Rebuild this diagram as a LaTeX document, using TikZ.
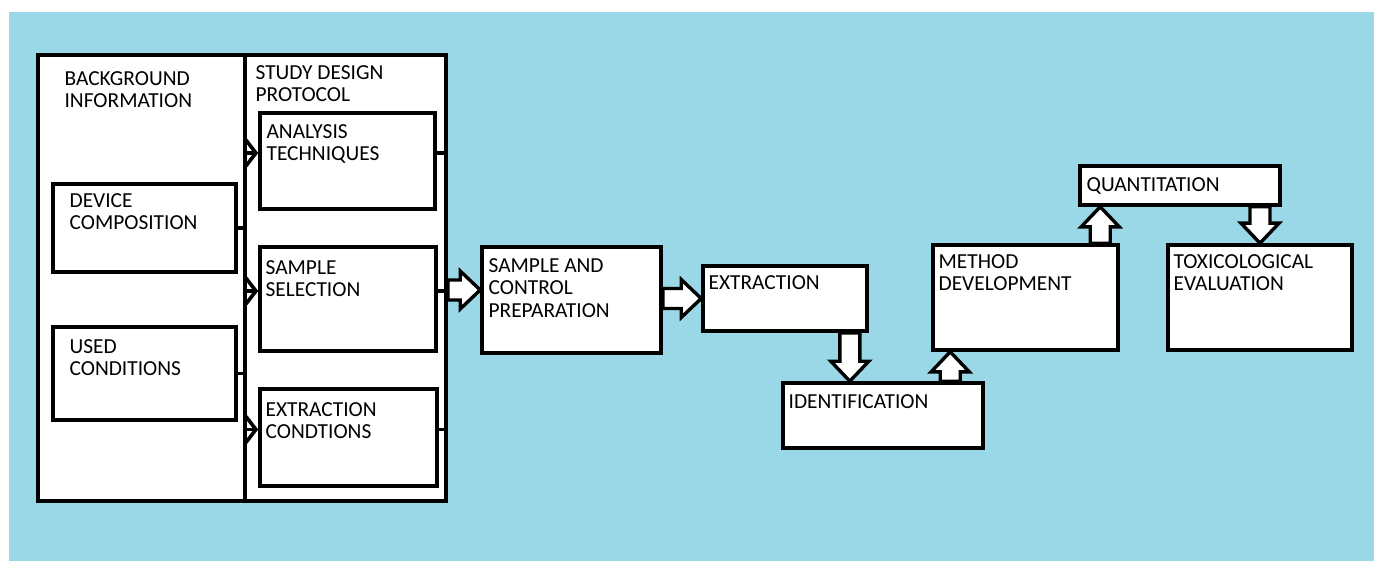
\documentclass[tikz,border=0pt]{standalone}
\usepackage{fontspec}
\setmainfont{Carlito}
\usetikzlibrary{calc,fit,arrows.meta}
\definecolor{skyback}{HTML}{9AD8E8}
\tikzset{
  box/.style={draw=black, fill=white, line width=1.8pt, inner sep=0pt},
  tag/.style={anchor=north west, inner sep=0pt, align=left, text=black,
    font=\fontsize{10.7}{11.2}\selectfont, xshift=4pt, yshift=-6.5pt},
  feed/.style={line width=1.6pt, -{Straight Barb[length=5pt,width=13pt,line width=1.8pt]}},
  stub/.style={line width=1.6pt},
  fat/.style={draw=black, fill=white, line width=1.7pt, line join=miter}
}
% hollow block arrow from #1 to #2
\newcommand{\fatarrow}[2]{%
  \coordinate (hb) at ($(#2)!10pt!(#1)$);
  \draw[fat] ($(#1)!5pt!90:(#2)$) -- ($(hb)!5pt!90:(#2)$) -- ($(hb)!9.5pt!90:(#2)$) -- (#2)
    -- ($(hb)!9.5pt!-90:(#2)$) -- ($(hb)!5pt!-90:(#2)$) -- ($(#1)!5pt!-90:(#2)$) -- cycle;
}
\begin{document}
\begin{tikzpicture}[x=0.5pt, y=-0.5pt]
  \useasboundingbox (0,0) rectangle (1374,561);
  \fill[white] (0,0) rectangle (1374,561);
  \fill[skyback] (9,12) rectangle (1390,575);

  % background and protocol blocks
  \node[box, fit={(38,55) (246,501)},
    label={[tag, xshift=10pt, yshift=-2.5pt]north west:BACKGROUND\\INFORMATION}] (bg) {};
  \node[box, fit={(245,55) (446,501)},
    label={[tag, xshift=2pt, yshift=0.5pt]north west:STUDY DESIGN\\PROTOCOL}] (study) {};
  \node[box, fit={(53,184) (236,272)},
    label={[tag, xshift=5pt, yshift=1pt]north west:DEVICE\\COMPOSITION}] (dc) {};
  \node[box, fit={(53,327) (236,420)},
    label={[tag, xshift=5pt, yshift=-0.5pt]north west:USED\\CONDITIONS}] (uc) {};
  \node[box, fit={(260,113) (435,209)},
    label={[tag]north west:ANALYSIS\\TECHNIQUES}] (at) {};
  \node[box, fit={(260,247) (436,351)},
    label={[tag, xshift=-0.5pt, yshift=-1pt]north west:SAMPLE\\SELECTION}] (ss) {};
  \node[box, fit={(260,389) (437,486)},
    label={[tag, xshift=-0.5pt, yshift=-1pt]north west:EXTRACTION\\CONDTIONS}] (ec) {};

  % workflow
  \node[box, fit={(482,247) (661,353)},
    label={[tag]north west:SAMPLE AND\\CONTROL\\PREPARATION}] (prep) {};
  \node[box, fit={(703,266) (867,331)},
    label={[tag, xshift=-0.5pt, yshift=1pt]north west:EXTRACTION}] (ex) {};
  \node[box, fit={(783,383) (983,448)},
    label={[tag, xshift=-0.5pt]north west:IDENTIFICATION}] (id) {};
  \node[box, fit={(933,245) (1118,350)},
    label={[tag, xshift=-0.5pt, yshift=1pt]north west:METHOD\\DEVELOPMENT}] (md) {};
  \node[box, fit={(1080,166) (1280,205)},
    label={[tag]north west:QUANTITATION}] (qt) {};
  \node[box, fit={(1168,245) (1352,350)},
    label={[tag, xshift=-0.5pt, yshift=1pt]north west:TOXICOLOGICAL\\EVALUATION}] (tox) {};

  % thin links inside the protocol
  \draw[stub] (dc.east) -- (dc.east -| study.west);
  \draw[stub] (uc.east) -- (uc.east -| study.west);
  \foreach \b in {at,ss,ec} {
    \coordinate (\b-in) at ($(\b.west)+(0,-8)$);
    \coordinate (\b-out) at ($(\b.east)+(0,-8)$);
    \draw[feed] (\b-in -| study.west) -- (\b-in);
    \draw[stub] (\b-out) -- (\b-out -| study.east);
  }

  % block arrows
  \coordinate (r1) at ($(study.east |- ss.east)+(0,-9)$);
  \fatarrow{r1}{r1 -| prep.west}
  \fatarrow{prep.east |- ex.west}{ex.west}
  \coordinate (d1) at ($(ex.south east)+(-19,0)$);
  \fatarrow{d1}{d1 |- id.north}
  \coordinate (u1) at ($(md.south west)+(19,0)$);
  \fatarrow{u1 |- id.north}{u1}
  \coordinate (u2) at ($(qt.south west)+(22,0)$);
  \fatarrow{u2 |- md.north}{u2}
  \fatarrow{qt.south -| tox.north}{tox.north}
\end{tikzpicture}
\end{document}
